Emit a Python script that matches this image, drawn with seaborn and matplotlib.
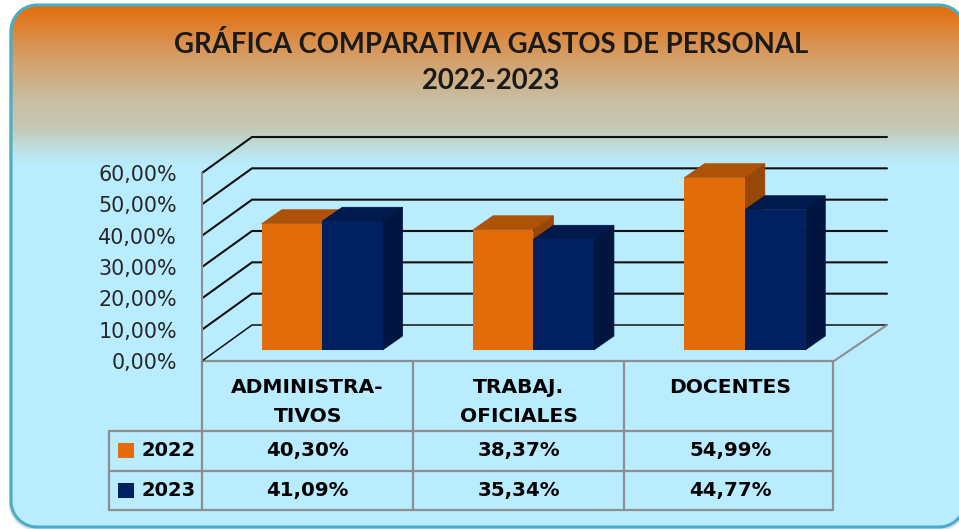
"""Comparative 3D-look bar chart of personnel costs, 2022 against 2023."""

import matplotlib

matplotlib.use("Agg")

import matplotlib.pyplot as plt
import numpy as np
import pandas as pd
import seaborn as sns
from matplotlib.colors import LinearSegmentedColormap
from matplotlib.lines import Line2D
from matplotlib.patches import Polygon, Rectangle
from matplotlib.transforms import Affine2D, IdentityTransform

categories = ["ADMINISTRA-\nTIVOS", "TRABAJ.\nOFICIALES", "DOCENTES"]
years = ["2022", "2023"]
values_2022 = [40.30, 38.37, 54.99]
values_2023 = [41.09, 35.34, 44.77]
y_ticks = [0, 10, 20, 30, 40, 50, 60]
title = "GRÁFICA COMPARATIVA GASTOS DE PERSONAL\n2022-2023"

WIDTH, HEIGHT = 959, 529
SKY = "#B9ECFF"
FRONT = {"2022": "#E36C0A", "2023": "#002060"}
TOP = {"2022": "#AE5207", "2023": "#001A4D"}
SIDE = {"2022": "#974706", "2023": "#001540"}
GREY = "#8E8E8E"
BOLD = {"fontfamily": "DejaVu Sans", "fontweight": "bold", "color": "black"}


def flip(y):
    return HEIGHT - y


def pct(value):
    return f"{value:.2f}".replace(".", ",") + "%"


def rounded_outline(x0, y0, x1, y1, radius):
    """Corner arcs as a plain polygon outline (y grows downwards)."""
    corners = [(x1 - radius, y0 + radius, -90), (x1 - radius, y1 - radius, 0),
               (x0 + radius, y1 - radius, 90), (x0 + radius, y0 + radius, 180)]
    points = []
    for cx, cy, start in corners:
        angles = np.radians(np.linspace(start, start + 90, 16))
        points.extend(zip(cx + radius * np.cos(angles), cy + radius * np.sin(angles)))
    return points


sns.set_theme(style="white")
plt.rcParams["font.family"] = ["DejaVu Sans"]

fig = plt.figure(figsize=(WIDTH / 100, HEIGHT / 100), dpi=100, facecolor="white")

# background panel with the orange fade at the top
bg = fig.add_axes([0, 0, 1, 1], zorder=0)
bg.axis("off")
fade = LinearSegmentedColormap.from_list(
    "fade",
    [(0.0, "#E36C0A"), (0.31, "#D69C63"), (0.59, "#C8BEA3"), (0.75, "#C5C6B0"), (0.91, "#BEE0E4"), (1.0, SKY)],
)
outline = rounded_outline(11, 5, 965, 527, 26)
bg.add_patch(Polygon(rounded_outline(9, 8, 967, 530, 26), facecolor="#000000", alpha=0.12, edgecolor="none", zorder=0))
panel = Polygon(outline, facecolor=SKY, edgecolor="none", zorder=1)
bg.add_patch(panel)
gradient = bg.imshow(np.linspace(0, 1, 256).reshape(-1, 1), cmap=fade, aspect="auto",
                     extent=(0, WIDTH, 165, 5), zorder=2)
gradient.set_clip_path(panel)
bg.set_xlim(0, WIDTH)
bg.set_ylim(HEIGHT, 0)
bg.add_patch(Polygon(outline, facecolor="none", edgecolor="#4BACC6", linewidth=2.2, zorder=3))

# main axes sit on the front plane of the fake 3D box
ax = fig.add_axes([202 / WIDTH, flip(361) / HEIGHT, 634 / WIDTH, 188 / HEIGHT], zorder=1)
ax.patch.set_alpha(0)

plot_data = pd.DataFrame({
    "category": categories * 2,
    "year": [years[0]] * 3 + [years[1]] * 3,
    "value": values_2022 + values_2023,
})
sns.barplot(data=plot_data, x="category", y="value", hue="year", hue_order=years,
            palette=FRONT, width=0.572, gap=0, saturation=1, legend=False, ax=ax)
ax.set_xlim(-0.5, 2.5)
ax.set_ylim(0, 60)
ax.set_xlabel("")
ax.set_ylabel("")
ax.set_yticks(y_ticks)
ax.set_yticklabels([pct(t) for t in y_ticks], fontsize=14.9, color="#262626")
ax.tick_params(axis="y", length=0, pad=18)
ax.tick_params(axis="x", length=0, pad=12)
ax.set_xticks(range(len(categories)))
ax.set_xticklabels(categories, fontsize=14.6, linespacing=1.7, **BOLD)
sns.despine(ax=ax, left=True, bottom=True)

identity = IdentityTransform()


def draw_line(xs, ys, color="#111111", lw=1.4, zorder=1):
    ax.add_line(Line2D(xs, ys, color=color, lw=lw, transform=identity, clip_on=False, zorder=zorder))


# walls: gridlines follow the y axis, then run back and along the rear wall
for tick in y_ticks:
    px, py = ax.transData.transform((-0.5, tick))
    draw_line([px, px + 50, 887], [py, py + 36, py + 36], lw=1.5 if tick else 1.1)
x0, y0 = ax.transData.transform((-0.5, 0))
_, y_top = ax.transData.transform((-0.5, 60))
draw_line([x0, x0], [y0, y_top], color=GREY, lw=1.5)
draw_line([834, 887], [y0, y0 + 36], color=GREY, lw=1.5)

# bars get pushed into the box, then their top and side faces are added
shift_x, shift_y = 14.5, 11
depth_x, depth_y = 20, 14
for i, patch in enumerate(ax.patches[:6]):
    year = years[i // 3]
    patch.set_transform(ax.transData + Affine2D().translate(shift_x, shift_y))
    patch.set_clip_on(False)
    patch.set_zorder(4)
    patch.set_linewidth(0)
    left, top = ax.transData.transform((patch.get_x(), patch.get_height())) + (shift_x, shift_y)
    right, bottom = ax.transData.transform((patch.get_x() + patch.get_width(), 0)) + (shift_x, shift_y)
    layer = 2 + i // 3 * 0.5
    faces = {"top": [(left, top), (right, top), (right + depth_x, top + depth_y), (left + depth_x, top + depth_y)],
             "side": [(right, bottom), (right + depth_x, bottom + depth_y), (right + depth_x, top + depth_y), (right, top)]}
    ax.add_patch(Polygon(faces["top"], facecolor=TOP[year], edgecolor=TOP[year], lw=0.5,
                         transform=identity, clip_on=False, zorder=layer))
    ax.add_patch(Polygon(faces["side"], facecolor=SIDE[year], edgecolor=SIDE[year], lw=0.5,
                         transform=identity, clip_on=False, zorder=layer))

# data table under the chart
for x in [202, 413, 624, 833]:
    bg.plot([x, x], [361, 510], color=GREY, lw=1.6, zorder=5)
bg.plot([109, 109], [431, 510], color=GREY, lw=1.6, zorder=5)
bg.plot([202, 833], [361, 361], color=GREY, lw=1.6, zorder=5)
for y in [431, 471, 510]:
    bg.plot([109, 833], [y, y], color=GREY, lw=1.6, zorder=5)

for row_y, year, row in zip([450.5, 490.5], years, [values_2022, values_2023]):
    bg.add_patch(Rectangle((118, row_y - 7.5), 16, 15, facecolor=FRONT[year], edgecolor="none", zorder=5))
    bg.text(168.5, row_y, year, ha="center", va="center", fontsize=14, zorder=6, **BOLD)
    for i, value in enumerate(row):
        x_text = ax.transData.transform((i, 0))[0]
        bg.text(x_text, row_y, pct(value), ha="center", va="center", fontsize=14.2, zorder=6, **BOLD)

bg.text(491, 62.5, title, ha="center", va="center", fontsize=19.8, fontfamily="Lato", fontweight="bold",
        color="#1A1A1A", linespacing=1.5, zorder=6)

fig.savefig("out.png", dpi=100)
